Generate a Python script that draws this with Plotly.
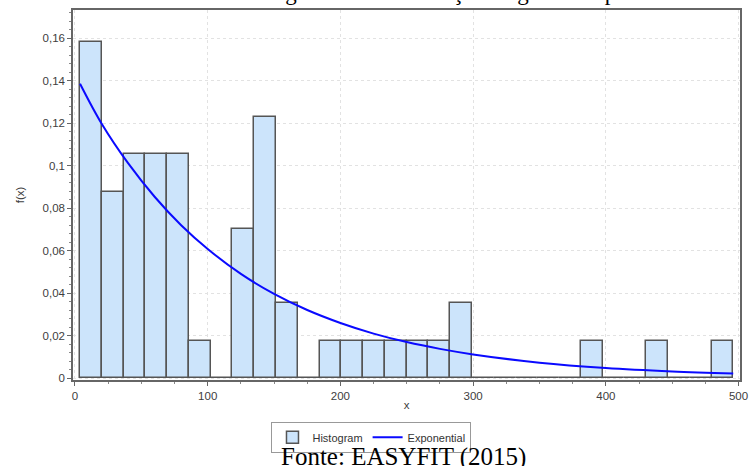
import numpy as np
import plotly.graph_objects as go

# ---- data ----
bin_start = 3.8
bin_width = 16.41
hist_values = [0.158, 0.0877, 0.1053, 0.1053, 0.1053, 0.0175, 0.0, 0.0702, 0.1228, 0.0351,
               0.0, 0.0175, 0.0175, 0.0175, 0.0175, 0.0175, 0.0175, 0.0351, 0.0, 0.0,
               0.0, 0.0, 0.0, 0.0175, 0.0, 0.0, 0.0175, 0.0, 0.0, 0.0175]

curve_x = [3.8, 20, 40, 60, 80, 100, 125, 150, 175, 200, 225, 250, 275, 300, 350, 400, 450, 496]
curve_y = [0.1385, 0.1198, 0.1011, 0.0853, 0.0719, 0.0607, 0.0490, 0.0396, 0.0320, 0.0259,
           0.0209, 0.0169, 0.0137, 0.0111, 0.0072, 0.0047, 0.0031, 0.0021]

x_ticks = [0, 100, 200, 300, 400, 500]
y_ticks = [0, 0.02, 0.04, 0.06, 0.08, 0.1, 0.12, 0.14, 0.16]

title_text = "Gráfico 4 – Histograma da distribuição Negativa Exponencial"
source_text = "Fonte: EASYFIT (2015)"

centers = bin_start + bin_width * (np.arange(len(hist_values)) + 0.5)

fig = go.Figure()
fig.add_trace(go.Bar(
    x=centers, y=hist_values, width=bin_width, name="Histogram",
    marker=dict(color="#cce4fb", line=dict(color="#555555", width=1.5)),
))
fig.add_trace(go.Scatter(
    x=curve_x, y=curve_y, mode="lines", name="Exponential",
    line=dict(color="#0a0aff", width=2, shape="spline"),
))

axis_font = dict(family="Arial, Liberation Sans, sans-serif", size=11.5, color="#404040")

fig.update_layout(
    width=750, height=466,
    margin=dict(l=73, r=10, t=10, b=86, autoexpand=False),
    paper_bgcolor="white", plot_bgcolor="white",
    separators=", ",
    bargap=0,
    showlegend=True,
    legend=dict(orientation="h", x=0.4475, xanchor="center", y=-0.113, yanchor="top",
                bordercolor="#999999", borderwidth=1,
                font=dict(family="Arial, Liberation Sans, sans-serif", size=11, color="#333333"),
                itemwidth=30, tracegroupgap=0),
    xaxis=dict(range=[-1.5, 501.1], tickvals=x_ticks, ticks="outside", ticklen=4,
               tickcolor="#666666", tickfont=axis_font, automargin=False,
               ticklabeloverflow="allow",
               showline=True, linecolor="#666666", linewidth=1.5, mirror=True,
               showgrid=True, gridcolor="#e2e2e2", griddash="3px,3px", zeroline=False,
               minor=dict(dtick=25, ticks="outside", ticklen=2, tickcolor="#888888", showgrid=False),
               title=dict(text="x", font=axis_font, standoff=0)),
    yaxis=dict(range=[-0.00094, 0.1732], tickvals=y_ticks, ticks="outside", ticklen=4,
               tickcolor="#666666", tickfont=axis_font, automargin=False,
               showline=True, linecolor="#666666", linewidth=1.5, mirror=True,
               showgrid=True, gridcolor="#e2e2e2", griddash="3px,3px", zeroline=False,
               minor=dict(dtick=0.004, ticks="outside", ticklen=2, tickcolor="#888888", showgrid=False),
               title=dict(text="f(x)", font=axis_font, standoff=16)),
    annotations=[
        dict(text=source_text, xref="paper", yref="paper", x=0.495, y=-0.165,
             xanchor="center", yanchor="top", showarrow=False,
             font=dict(family="Liberation Serif, Times New Roman, serif", size=25, color="black")),
        dict(text=title_text, xref="paper", yref="paper", x=0.505, y=1.0, yshift=3,
             xanchor="center", yanchor="bottom", showarrow=False,
             font=dict(family="Liberation Serif, Times New Roman, serif", size=23, color="black")),
    ],
)

fig.write_html("out.html", config={"displayModeBar": False},
               post_script="document.body.style.margin='0px';")
